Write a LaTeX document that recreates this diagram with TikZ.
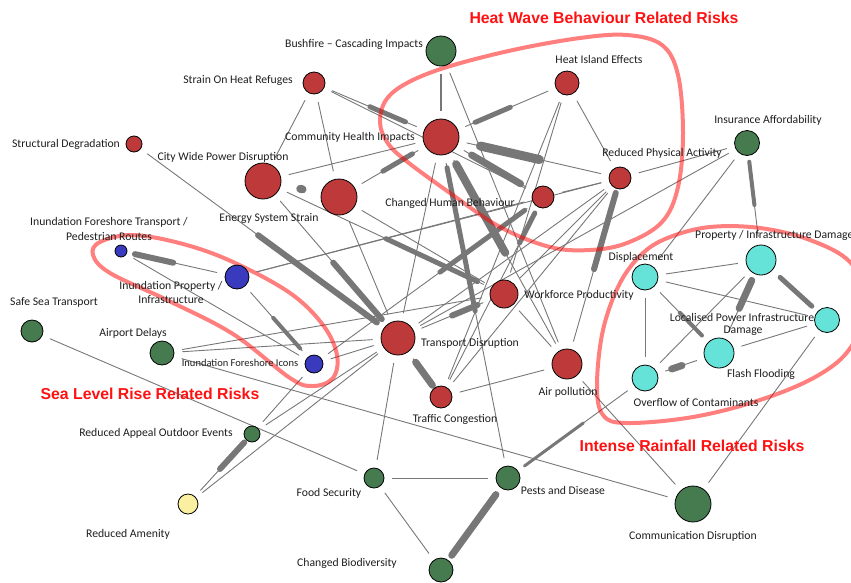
\documentclass[tikz,border=0pt]{standalone}
\usepackage{fontspec}
\setmainfont{Carlito}
\newfontfamily\arialf{Liberation Sans}
\usetikzlibrary{calc}
\definecolor{nred}{HTML}{BE3A3A}
\definecolor{ngreen}{HTML}{467A4F}
\definecolor{nblue}{HTML}{3A3ABF}
\definecolor{ncyan}{HTML}{66E3D9}
\definecolor{nyellow}{HTML}{FAF0A0}
\definecolor{egray}{HTML}{777777}
\definecolor{ltext}{HTML}{1E1E1E}
\definecolor{ttext}{HTML}{FF1111}
\pgfdeclarelayer{edgelayer}
\pgfdeclarelayer{hulllayer}
\pgfsetlayers{edgelayer,hulllayer,main}
\newcommand{\tedge}[5]{%
  \draw[e] (#1) -- (#2);
  \draw[egray, line width=#3, line cap=round] ($(#1)!#4!(#2)$) -- ($(#1)!#5!(#2)$);}
\begin{document}
\begin{tikzpicture}[x=1pt,y=-1pt,
  nd/.style={circle, draw=black, line width=0.8pt, inner sep=0pt},
  e/.style={draw=egray, line width=0.9pt, shorten <=8pt, shorten >=8pt},
  lab/.style={inner sep=0pt, text=ltext, font=\fontsize{11.7}{13}\selectfont},
  labs/.style={inner sep=0pt, text=ltext, font=\fontsize{10.5}{12}\selectfont},
  ttl/.style={inner sep=0pt, text=ttext, font=\arialf\bfseries\fontsize{15.8}{18}\selectfont},
  hull/.style={draw=red, draw opacity=0.5, line width=4pt}]
\useasboundingbox (0,0) rectangle (851,582);
% nodes
\node[nd, fill=ngreen, minimum size=30pt] (bush) at (441,51) {};
\node[nd, fill=nred, minimum size=22pt] (strain) at (314,83) {};
\node[nd, fill=nred, minimum size=36pt] (chi) at (441,137) {};
\node[nd, fill=nred, minimum size=24pt] (hie) at (567,83) {};
\node[nd, fill=nred, minimum size=16pt] (struct) at (134,144) {};
\node[nd, fill=nred, minimum size=36pt] (cwp) at (263,181) {};
\node[nd, fill=nred, minimum size=36pt] (ess) at (339,197) {};
\node[nd, fill=nred, minimum size=22pt] (chb) at (543,197) {};
\node[nd, fill=nred, minimum size=22pt] (rpa) at (620,178) {};
\node[nd, fill=ngreen, minimum size=25pt] (ins) at (747,143) {};
\node[nd, fill=nblue, minimum size=12pt] (ift) at (121,251) {};
\node[nd, fill=nblue, minimum size=24pt] (ipi) at (237,277) {};
\node[nd, fill=ngreen, minimum size=22pt] (sea) at (32,331) {};
\node[nd, fill=ngreen, minimum size=24pt] (airp) at (162,353) {};
\node[nd, fill=nblue, minimum size=18pt] (icons) at (314,364) {};
\node[nd, fill=nred, minimum size=28pt] (work) at (504,294) {};
\node[nd, fill=nred, minimum size=34pt] (trans) at (398,338) {};
\node[nd, fill=nred, minimum size=30pt] (pol) at (567,364) {};
\node[nd, fill=nred, minimum size=22pt] (traf) at (441,397) {};
\node[nd, fill=ncyan, minimum size=26pt] (disp) at (645,277) {};
\node[nd, fill=ncyan, minimum size=30pt] (prop) at (761,260) {};
\node[nd, fill=ncyan, minimum size=25pt] (loc) at (827,320) {};
\node[nd, fill=ncyan, minimum size=30pt] (flash) at (719,353) {};
\node[nd, fill=ncyan, minimum size=26pt] (over) at (645,378) {};
\node[nd, fill=ngreen, minimum size=16pt] (roe) at (252,434) {};
\node[nd, fill=nyellow, minimum size=20pt] (amen) at (188,504) {};
\node[nd, fill=ngreen, minimum size=20pt] (food) at (374,478) {};
\node[nd, fill=ngreen, minimum size=24pt] (pests) at (508,478) {};
\node[nd, fill=ngreen, minimum size=24pt] (bio) at (441,570) {};
\node[nd, fill=ngreen, minimum size=36pt] (comm) at (693,504) {};
% labels
\node[lab] (l-bush) at (354,44) {Bushfire -- Cascading Impacts};
\node[lab] (l-strain) at (238,80) {Strain On Heat Refuges};
\node[lab] (l-struct) at (66,144) {Structural Degradation};
\node[lab] (l-cwp) at (223,157) {City Wide Power Disruption};
\node[lab] (l-chi) at (350,137) {Community Health Impacts};
\node[lab] (l-hie) at (599,59) {Heat Island Effects};
\node[lab] (l-ins) at (768,120) {Insurance Affordability};
\node[lab] (l-rpa) at (662,153) {Reduced Physical Activity};
\node[lab] (l-ess) at (269,218) {Energy System Strain};
\node[lab] (l-chb) at (450,203) {Changed Human Behaviour};
\node[lab] (l-ift1) at (109,222) {Inundation Foreshore Transport /};
\node[lab] (l-ift2) at (109,236) {Pedestrian Routes};
\node[lab] (l-ipi1) at (171,286) {Inundation Property /};
\node[lab] (l-ipi2) at (171,300) {Infrastructure};
\node[lab] (l-sea) at (54,302) {Safe Sea Transport};
\node[lab] (l-airp) at (133,333) {Airport Delays};
\node[labs] (l-icons) at (240,363) {Inundation Foreshore Icons};
\node[lab] (l-work) at (579,295) {Workforce Productivity};
\node[lab] (l-trans) at (470,343) {Transport Disruption};
\node[lab] (l-disp) at (641,257) {Displacement};
\node[lab, anchor=west] (l-prop) at (695,235) {Property / Infrastructure Damage};
\node[lab] (l-loc1) at (742,317) {Localised Power Infrastructure};
\node[lab] (l-loc2) at (743,331) {Damage};
\node[lab] (l-flash) at (761,374) {Flash Flooding};
\node[lab] (l-over) at (696,403) {Overflow of Contaminants};
\node[lab] (l-pol) at (568,392) {Air pollution};
\node[lab] (l-traf) at (455,419) {Traffic Congestion};
\node[lab] (l-roe) at (156,433) {Reduced Appeal Outdoor Events};
\node[lab] (l-amen) at (128,534) {Reduced Amenity};
\node[lab] (l-food) at (329,493) {Food Security};
\node[lab] (l-pests) at (563,490) {Pests and Disease};
\node[lab] (l-bio) at (347,563) {Changed Biodiversity};
\node[lab] (l-comm) at (693,536) {Communication Disruption};
% titles
\node[ttl] (t-heat) at (604,18) {Heat Wave Behaviour Related Risks};
\node[ttl] (t-sea) at (150,394) {Sea Level Rise Related Risks};
\node[ttl] (t-rain) at (692,446) {Intense Rainfall Related Risks};
% hulls
\begin{pgfonlayer}{hulllayer}
\draw[hull] plot[smooth cycle, tension=0.6] coordinates {(380,122) (386,100) (407,83) (447,67) (513,50) (580,38) (627,35) (662,45) (678,75) (683,133) (678,187) (662,222) (627,243) (590,250) (550,247) (500,227) (450,193) (405,160) (387,142)};
\draw[hull] plot[smooth cycle, tension=0.6] coordinates {(93,255) (100,242) (133,235) (183,244) (233,262) (290,293) (323,325) (337,355) (333,378) (313,386) (290,378) (233,334) (167,300) (110,273)};
\draw[hull] plot[smooth cycle, tension=0.6] coordinates {(597,385) (603,330) (620,283) (643,253) (670,237) (710,227) (760,228) (810,240) (850,262) (868,300) (851,347) (817,376) (760,400) (693,417) (627,423) (603,415)};
\end{pgfonlayer}
% edges
\begin{pgfonlayer}{edgelayer}
\draw[e] (strain) -- (cwp);
\draw[e] (strain) -- (ess);
\draw[e] (strain) -- (chb);
\draw[e, line width=1.6pt] (bush) -- (chi);
\draw[e] (bush) -- (pol);
\draw[e] (chi) -- (cwp);
\draw[e] (chi) -- (trans);
\draw[e] (hie) -- (rpa);
\draw[e] (hie) -- (work);
\draw[e] (hie) -- (traf);
\draw[e] (rpa) -- (ins);
\draw[e] (rpa) -- (chb);
\draw[e] (rpa) -- (work);
\draw[e] (rpa) -- (trans);
\draw[e] (rpa) -- (traf);
\draw[e] (ins) -- (trans);
\draw[e] (ins) -- (disp);
\draw[e] (ift) -- (icons);
\draw[e] (ipi) -- (rpa);
\draw[e] (ipi) -- (chb);
\draw[e] (ess) -- (trans);
\draw[e] (ess) -- (work);
\draw[e] (airp) -- (work);
\draw[e] (airp) -- (trans);
\draw[e] (airp) -- (comm);
\draw[e] (sea) -- (food);
\draw[e] (icons) -- (trans);
\draw[e] (roe) -- (icons);
\draw[e] (roe) -- (trans);
\draw[e] (amen) -- (trans);
\draw[e] (trans) -- (food);
\draw[e] (food) -- (pests);
\draw[e] (food) -- (bio);
\draw[e] (traf) -- (pol);
\draw[e] (work) -- (pol);
\draw[e] (pol) -- (comm);
\draw[e] (loc) -- (comm);
\draw[e] (disp) -- (prop);
\draw[e] (disp) -- (loc);
\draw[e] (disp) -- (over);
\draw[e] (prop) -- (over);
\draw[e] (loc) -- (flash);
\tedge{struct}{trans}{6pt}{0.47}{0.92}
\tedge{cwp}{trans}{6pt}{0.52}{0.88}
\tedge{strain}{chi}{5pt}{0.44}{0.72}
\tedge{chi}{hie}{5pt}{0.27}{0.55}
\tedge{chi}{rpa}{9pt}{0.22}{0.55}
\tedge{chi}{chb}{7pt}{0.3}{0.78}
\tedge{chi}{pests}{5pt}{0.09}{0.51}
\tedge{chi}{pol}{8pt}{0.12}{0.51}
\tedge{cwp}{work}{5pt}{0.51}{0.89}
\tedge{ess}{chi}{5pt}{0.43}{0.72}
\tedge{ift}{ipi}{6pt}{0.12}{0.45}
\tedge{ipi}{icons}{4pt}{0.47}{0.82}
\tedge{roe}{amen}{6pt}{0.12}{0.5}
\tedge{trans}{traf}{7pt}{0.41}{0.8}
\tedge{trans}{work}{6pt}{0.51}{0.75}
\tedge{chb}{icons}{5pt}{0.08}{0.45}
\tedge{chb}{traf}{5pt}{0.08}{0.23}
\tedge{rpa}{pol}{6pt}{0.08}{0.49}
\tedge{ins}{prop}{4pt}{0.16}{0.53}
\tedge{disp}{flash}{4pt}{0.47}{0.77}
\tedge{prop}{loc}{5pt}{0.29}{0.77}
\tedge{prop}{flash}{7pt}{0.22}{0.52}
\tedge{over}{flash}{7pt}{0.36}{0.5}
\tedge{over}{pests}{3pt}{0.45}{0.88}
\tedge{pests}{bio}{7pt}{0.18}{0.84}
\draw[egray, line width=8pt, line cap=round] ($(cwp)!0.49!(ess)$) -- ($(cwp)!0.52!(ess)$);
\end{pgfonlayer}
\end{tikzpicture}
\end{document}
